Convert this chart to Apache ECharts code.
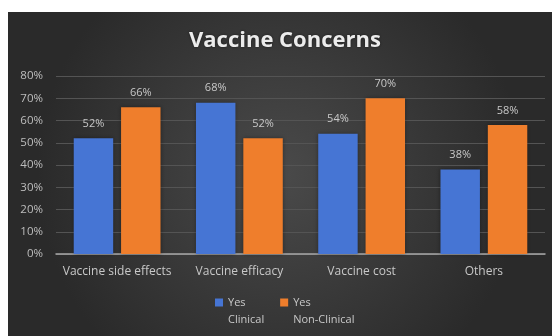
<!DOCTYPE html>
<html>
<head>
<meta charset="utf-8">
<style>
  html, body { margin: 0; padding: 0; background: #ffffff; }
  #chart { width: 552px; height: 336px; }
</style>
<script src="https://cdn.jsdelivr.net/npm/echarts@6/dist/echarts.min.js"></script>
</head>
<body>
<div id="chart"></div>
<script>
// Survey answers: share of respondents (%) raising each concern
const categories = ['Vaccine side effects', 'Vaccine efficacy', 'Vaccine cost', 'Others'];
const clinical = [52, 68, 54, 38];
const nonClinical = [66, 52, 70, 58];
const seriesNames = ['Yes\nClinical', 'Yes\nNon-Clinical'];
const yTicks = { min: 0, max: 80, step: 10 };

const FONT = '"Open Sans", "Liberation Sans", sans-serif';
const labelGray = '#c8c8c8';

// Legend marker: a square pinned to the top of a tall item box, so it sits
// beside the first line of the two-line legend text.
const topSquareIcon = 'path://M0,0H8V8H0Z M0,25H0.01V25.01H0Z';

const chart = echarts.init(document.getElementById('chart'), null, { renderer: 'canvas' });

const barLabel = {
  show: true, position: 'top', distance: 9,
  formatter: '{c}%', fontFamily: FONT, fontSize: 11, color: labelGray
};

chart.setOption({
  backgroundColor: '#ffffff',
  animation: false,
  graphic: [{
    type: 'rect',
    z: -10,
    silent: true,
    shape: { x: 8, y: 12, width: 544, height: 324 },
    style: {
      fill: {
        type: 'radial', x: 0.5, y: 0.5, r: 0.75,
        colorStops: [
          { offset: 0, color: '#4a4a4a' },
          { offset: 1, color: '#2a2a2a' }
        ]
      }
    }
  }],
  title: {
    text: 'Vaccine Concerns',
    left: 189,
    top: 30,
    padding: 0,
    textStyle: {
      fontFamily: FONT,
      fontSize: 22,
      fontWeight: 'bold',
      color: '#ececec',
      textShadowColor: 'rgba(0,0,0,0.5)',
      textShadowBlur: 3
    }
  },
  legend: {
    left: 215,
    top: 294,
    padding: 0,
    itemWidth: 8,
    itemHeight: 25,
    itemGap: 16,
    icon: topSquareIcon,
    data: seriesNames,
    textStyle: {
      fontFamily: FONT,
      fontSize: 11,
      color: labelGray,
      lineHeight: 17
    }
  },
  grid: { left: 56, right: 7, top: 76, bottom: 82, containLabel: false },
  xAxis: {
    type: 'category',
    data: categories,
    axisLine: { lineStyle: { color: '#a8a8a8', width: 1.5 } },
    axisTick: { show: false },
    axisLabel: {
      interval: 0,
      fontFamily: FONT,
      fontSize: 12,
      color: labelGray,
      margin: 12
    }
  },
  yAxis: {
    type: 'value',
    min: yTicks.min,
    max: yTicks.max,
    interval: yTicks.step,
    axisLine: { show: false },
    axisTick: { show: false },
    splitLine: { lineStyle: { color: '#545454', width: 1 } },
    axisLabel: {
      fontFamily: FONT,
      fontSize: 11.5,
      color: '#bdbdbd',
      margin: 13,
      formatter: '{value}%'
    }
  },
  series: [
    {
      name: seriesNames[0],
      type: 'bar',
      data: clinical,
      barGap: '20%',
      barCategoryGap: '29%',
      itemStyle: { color: '#4675d4', shadowColor: 'rgba(0,0,0,0.35)', shadowBlur: 4 },
      label: barLabel
    },
    {
      name: seriesNames[1],
      type: 'bar',
      data: nonClinical,
      barGap: '20%',
      barCategoryGap: '29%',
      itemStyle: { color: '#ef7e2c', shadowColor: 'rgba(0,0,0,0.35)', shadowBlur: 4 },
      label: barLabel
    }
  ]
});
</script>
</body>
</html>
